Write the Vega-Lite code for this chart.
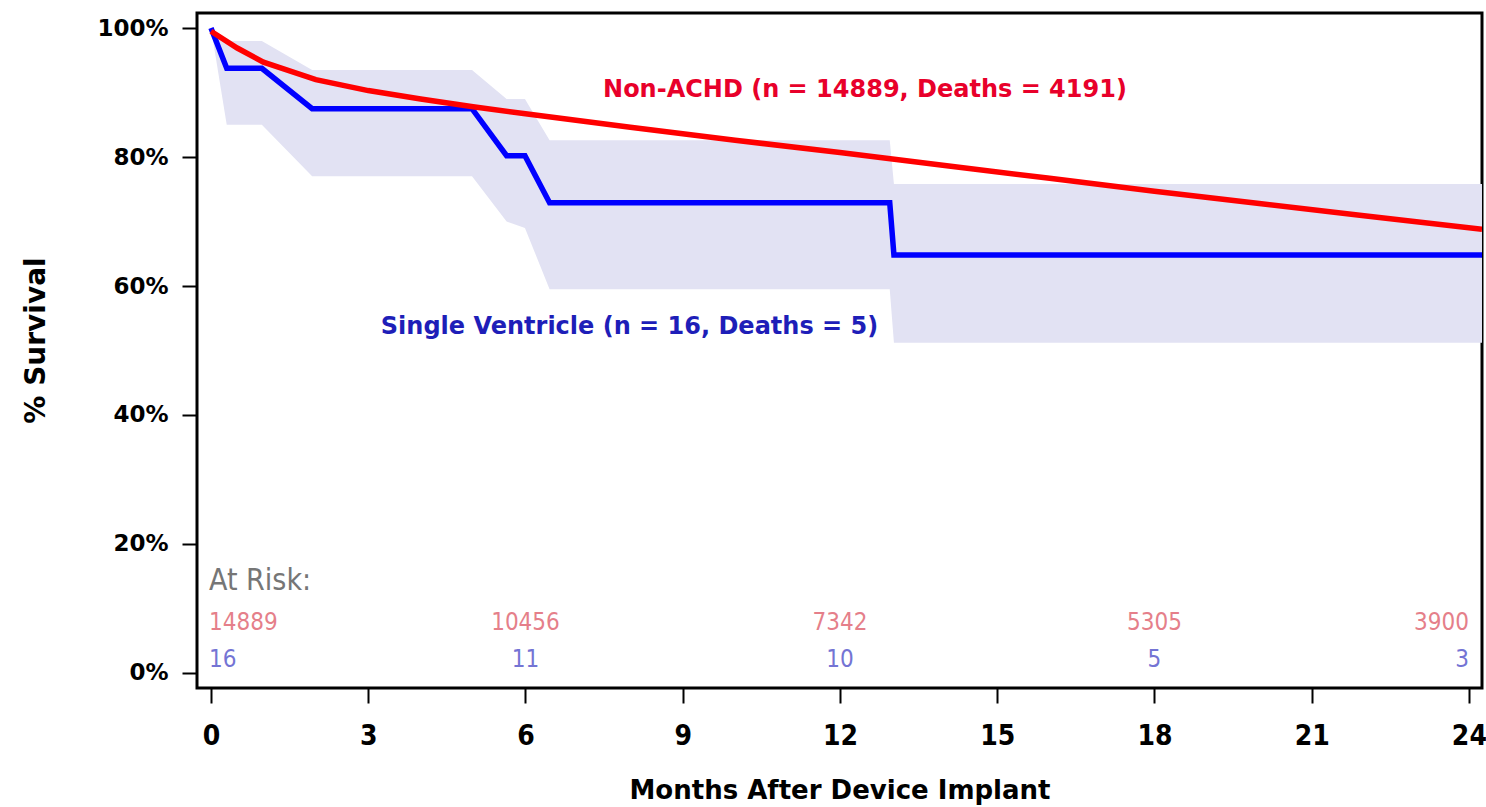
{
  "$schema": "https://vega.github.io/schema/vega-lite/v6.json",
  "width": 1285,
  "height": 675,
  "autosize": {"type": "none"},
  "padding": {"left": 197, "top": 13, "right": 4, "bottom": 119},
  "background": "white",
  "config": {
    "view": {"stroke": "#000000", "strokeWidth": 3},
    "axis": {"grid": false, "domain": false}
  },
  "datasets": {
    "km": [
      {"group": "Single Ventricle", "month": 0, "survival": 100},
      {"group": "Single Ventricle", "month": 0.3, "survival": 93.75},
      {"group": "Single Ventricle", "month": 0.97, "survival": 93.75},
      {"group": "Single Ventricle", "month": 1.93, "survival": 87.5},
      {"group": "Single Ventricle", "month": 4.98, "survival": 87.5},
      {"group": "Single Ventricle", "month": 5.64, "survival": 80.2},
      {"group": "Single Ventricle", "month": 5.99, "survival": 80.2},
      {"group": "Single Ventricle", "month": 6.46, "survival": 72.9},
      {"group": "Single Ventricle", "month": 12.95, "survival": 72.9},
      {"group": "Single Ventricle", "month": 13.03, "survival": 64.8},
      {"group": "Single Ventricle", "month": 24.25, "survival": 64.8},
      {"group": "Non-ACHD", "month": 0, "survival": 99.5},
      {"group": "Non-ACHD", "month": 0.5, "survival": 96.9},
      {"group": "Non-ACHD", "month": 1, "survival": 94.7},
      {"group": "Non-ACHD", "month": 2, "survival": 92.0},
      {"group": "Non-ACHD", "month": 3, "survival": 90.3},
      {"group": "Non-ACHD", "month": 4, "survival": 89.0},
      {"group": "Non-ACHD", "month": 5, "survival": 87.8},
      {"group": "Non-ACHD", "month": 6, "survival": 86.7},
      {"group": "Non-ACHD", "month": 8, "survival": 84.6},
      {"group": "Non-ACHD", "month": 10, "survival": 82.6},
      {"group": "Non-ACHD", "month": 12, "survival": 80.7},
      {"group": "Non-ACHD", "month": 14, "survival": 78.7},
      {"group": "Non-ACHD", "month": 16, "survival": 76.7},
      {"group": "Non-ACHD", "month": 18, "survival": 74.7},
      {"group": "Non-ACHD", "month": 20, "survival": 72.8},
      {"group": "Non-ACHD", "month": 22, "survival": 70.9},
      {"group": "Non-ACHD", "month": 24.25, "survival": 68.8}
    ],
    "band": [
      {"month": 0, "lower": 100, "upper": 100},
      {"month": 0.3, "lower": 85, "upper": 98},
      {"month": 0.97, "lower": 85, "upper": 98},
      {"month": 1.93, "lower": 77, "upper": 93.5},
      {"month": 4.98, "lower": 77, "upper": 93.5},
      {"month": 5.64, "lower": 70, "upper": 89},
      {"month": 5.99, "lower": 69, "upper": 89},
      {"month": 6.46, "lower": 59.5, "upper": 82.6},
      {"month": 12.95, "lower": 59.5, "upper": 82.6},
      {"month": 13.03, "lower": 51.2, "upper": 75.8},
      {"month": 24.25, "lower": 51.2, "upper": 75.8}
    ],
    "labels": [
      {"group": "Non-ACHD", "month": 7.48, "pct": 89.3, "text": "Non-ACHD (n = 14889, Deaths = 4191)"},
      {"group": "Single Ventricle", "month": 3.24, "pct": 52.5, "text": "Single Ventricle (n = 16, Deaths = 5)"},
      {"group": "header", "month": 0, "pct": 12.9, "text": "At Risk:"}
    ],
    "risk": [
      {"group": "Non-ACHD", "month": 0, "pct": 6.7, "n": "14889"},
      {"group": "Non-ACHD", "month": 6, "pct": 6.7, "n": "10456"},
      {"group": "Non-ACHD", "month": 12, "pct": 6.7, "n": "7342"},
      {"group": "Non-ACHD", "month": 18, "pct": 6.7, "n": "5305"},
      {"group": "Non-ACHD", "month": 24, "pct": 6.7, "n": "3900"},
      {"group": "Single Ventricle", "month": 0, "pct": 0.9, "n": "16"},
      {"group": "Single Ventricle", "month": 6, "pct": 0.9, "n": "11"},
      {"group": "Single Ventricle", "month": 12, "pct": 0.9, "n": "10"},
      {"group": "Single Ventricle", "month": 18, "pct": 0.9, "n": "5"},
      {"group": "Single Ventricle", "month": 24, "pct": 0.9, "n": "3"}
    ]
  },
  "layer": [
    {
      "data": {"name": "band"},
      "mark": {"type": "area", "color": "#e2e2f3", "opacity": 1, "clip": true},
      "encoding": {
        "x": {
          "field": "month", "type": "quantitative", "title": "Months After Device Implant",
          "scale": {"domain": [-0.267, 24.25], "nice": false, "zero": false},
          "axis": {
            "values": [0, 3, 6, 9, 12, 15, 18, 21, 24],
            "tickSize": 15, "tickWidth": 2, "tickColor": "#000000",
            "labelFont": "DejaVu Sans Condensed, DejaVu Sans",
            "labelFontWeight": "bold", "labelFontSize": 28, "labelColor": "#000000",
            "labelPadding": 19, "labelFlush": false,
            "titleFont": "DejaVu Sans", "titleFontWeight": "bold", "titleFontSize": 26,
            "titleColor": "#000000", "titleBaseline": "alphabetic", "titleY": 110
          }
        },
        "y": {
          "field": "lower", "type": "quantitative", "title": "% Survival",
          "scale": {"domain": [-2.33, 102.33], "nice": false, "zero": false},
          "axis": {
            "values": [0, 20, 40, 60, 80, 100],
            "labelExpr": "datum.value + '%'",
            "tickSize": 15, "tickWidth": 2, "tickColor": "#000000",
            "labelFont": "DejaVu Sans", "labelFontWeight": "bold", "labelFontSize": 23,
            "labelColor": "#000000", "labelPadding": 14,
            "titleFont": "DejaVu Sans", "titleFontWeight": "bold", "titleFontSize": 28,
            "titleColor": "#000000", "titleBaseline": "alphabetic", "titleX": -153, "titleY": 327
          }
        },
        "y2": {"field": "upper"}
      }
    },
    {
      "data": {"name": "km"},
      "transform": [{"filter": "datum.group === 'Single Ventricle'"}],
      "mark": {"type": "line", "color": "#0000ff", "strokeWidth": 5.5, "clip": true},
      "encoding": {
        "x": {"field": "month", "type": "quantitative", "title": "Months After Device Implant"},
        "y": {"field": "survival", "type": "quantitative", "title": "% Survival"}
      }
    },
    {
      "data": {"name": "km"},
      "transform": [{"filter": "datum.group === 'Non-ACHD'"}],
      "mark": {"type": "line", "color": "#ff0000", "strokeWidth": 5.5, "clip": true},
      "encoding": {
        "x": {"field": "month", "type": "quantitative", "title": "Months After Device Implant"},
        "y": {"field": "survival", "type": "quantitative", "title": "% Survival"}
      }
    },
    {
      "data": {"name": "labels"},
      "transform": [{"filter": "datum.group === 'Non-ACHD'"}],
      "mark": {"type": "text", "color": "#e8002a", "font": "DejaVu Sans", "fontWeight": "bold", "fontSize": 24, "align": "left", "baseline": "alphabetic"},
      "encoding": {
        "x": {"field": "month", "type": "quantitative", "title": "Months After Device Implant"},
        "y": {"field": "pct", "type": "quantitative", "title": "% Survival"},
        "text": {"field": "text"}
      }
    },
    {
      "data": {"name": "labels"},
      "transform": [{"filter": "datum.group === 'Single Ventricle'"}],
      "mark": {"type": "text", "color": "#1e1eb8", "font": "DejaVu Sans", "fontWeight": "bold", "fontSize": 24, "align": "left", "baseline": "alphabetic"},
      "encoding": {
        "x": {"field": "month", "type": "quantitative", "title": "Months After Device Implant"},
        "y": {"field": "pct", "type": "quantitative", "title": "% Survival"},
        "text": {"field": "text"}
      }
    },
    {
      "data": {"name": "labels"},
      "transform": [{"filter": "datum.group === 'header'"}],
      "mark": {"type": "text", "color": "#767676", "font": "DejaVu Sans Condensed, DejaVu Sans", "fontSize": 30, "align": "left", "baseline": "alphabetic", "dx": -2},
      "encoding": {
        "x": {"field": "month", "type": "quantitative", "title": "Months After Device Implant"},
        "y": {"field": "pct", "type": "quantitative", "title": "% Survival"},
        "text": {"field": "text"}
      }
    },
    {
      "data": {"name": "risk"},
      "transform": [{"filter": "datum.group === 'Non-ACHD' && datum.month === 0"}],
      "mark": {"type": "text", "color": "#e57f8a", "font": "DejaVu Sans Condensed, DejaVu Sans", "fontSize": 24, "align": "left", "baseline": "alphabetic", "dx": -2},
      "encoding": {
        "x": {"field": "month", "type": "quantitative", "title": "Months After Device Implant"},
        "y": {"field": "pct", "type": "quantitative", "title": "% Survival"},
        "text": {"field": "n"}
      }
    },
    {
      "data": {"name": "risk"},
      "transform": [{"filter": "datum.group === 'Non-ACHD' && datum.month > 0 && datum.month < 24"}],
      "mark": {"type": "text", "color": "#e57f8a", "font": "DejaVu Sans Condensed, DejaVu Sans", "fontSize": 24, "align": "center", "baseline": "alphabetic"},
      "encoding": {
        "x": {"field": "month", "type": "quantitative", "title": "Months After Device Implant"},
        "y": {"field": "pct", "type": "quantitative", "title": "% Survival"},
        "text": {"field": "n"}
      }
    },
    {
      "data": {"name": "risk"},
      "transform": [{"filter": "datum.group === 'Non-ACHD' && datum.month === 24"}],
      "mark": {"type": "text", "color": "#e57f8a", "font": "DejaVu Sans Condensed, DejaVu Sans", "fontSize": 24, "align": "right", "baseline": "alphabetic"},
      "encoding": {
        "x": {"field": "month", "type": "quantitative", "title": "Months After Device Implant"},
        "y": {"field": "pct", "type": "quantitative", "title": "% Survival"},
        "text": {"field": "n"}
      }
    },
    {
      "data": {"name": "risk"},
      "transform": [{"filter": "datum.group === 'Single Ventricle' && datum.month === 0"}],
      "mark": {"type": "text", "color": "#7474d4", "font": "DejaVu Sans Condensed, DejaVu Sans", "fontSize": 24, "align": "left", "baseline": "alphabetic", "dx": -2},
      "encoding": {
        "x": {"field": "month", "type": "quantitative", "title": "Months After Device Implant"},
        "y": {"field": "pct", "type": "quantitative", "title": "% Survival"},
        "text": {"field": "n"}
      }
    },
    {
      "data": {"name": "risk"},
      "transform": [{"filter": "datum.group === 'Single Ventricle' && datum.month > 0 && datum.month < 24"}],
      "mark": {"type": "text", "color": "#7474d4", "font": "DejaVu Sans Condensed, DejaVu Sans", "fontSize": 24, "align": "center", "baseline": "alphabetic"},
      "encoding": {
        "x": {"field": "month", "type": "quantitative", "title": "Months After Device Implant"},
        "y": {"field": "pct", "type": "quantitative", "title": "% Survival"},
        "text": {"field": "n"}
      }
    },
    {
      "data": {"name": "risk"},
      "transform": [{"filter": "datum.group === 'Single Ventricle' && datum.month === 24"}],
      "mark": {"type": "text", "color": "#7474d4", "font": "DejaVu Sans Condensed, DejaVu Sans", "fontSize": 24, "align": "right", "baseline": "alphabetic"},
      "encoding": {
        "x": {"field": "month", "type": "quantitative", "title": "Months After Device Implant"},
        "y": {"field": "pct", "type": "quantitative", "title": "% Survival"},
        "text": {"field": "n"}
      }
    }
  ]
}
